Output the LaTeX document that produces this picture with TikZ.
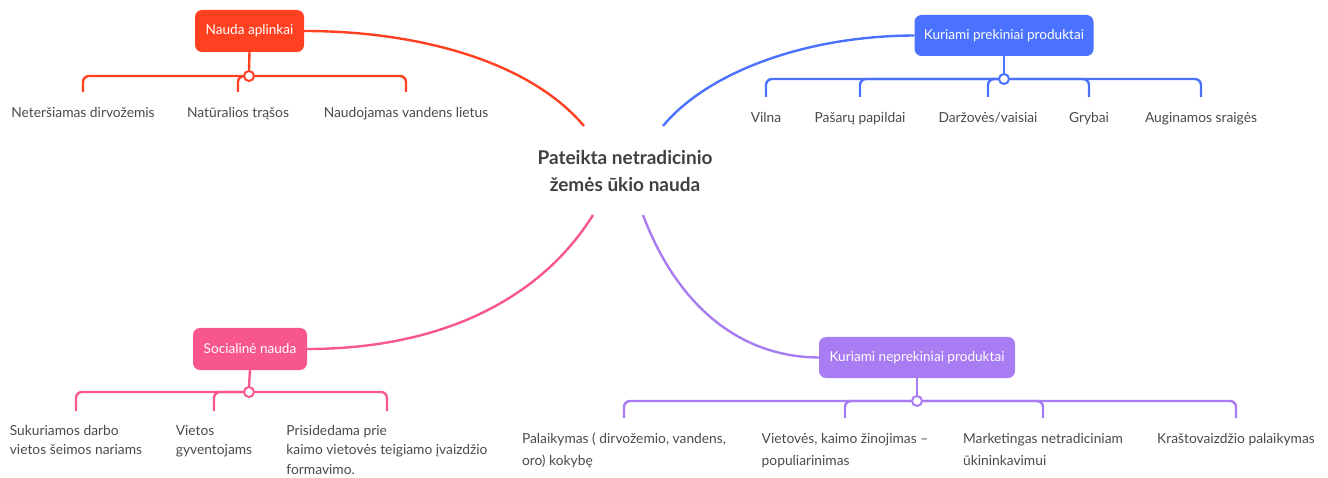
\documentclass[tikz,border=0pt]{standalone}
\usepackage{fontspec}
\setmainfont{Lato}
\definecolor{cred}{HTML}{FF4122}
\definecolor{cblue}{HTML}{4A72FF}
\definecolor{cpink}{HTML}{F7578C}
\definecolor{cpurple}{HTML}{A87CF2}
\definecolor{ctext}{HTML}{4A4A4A}
\begin{document}
\begin{tikzpicture}[x=1pt,y=-1pt,
  topic/.style={draw=none,rounded corners=7pt,text=white,font=\fontsize{13.6}{15}\selectfont,inner sep=0pt},
  leaf/.style={anchor=north,inner sep=0pt,align=left,text=ctext,font=\fontsize{13.8}{21}\selectfont},
  dotc/.style={circle,draw=#1,fill=white,line width=2pt,minimum size=10pt,inner sep=0pt},
  lnk/.style={line width=2.4pt,draw=#1},
  br/.style={line width=2.4pt,draw=#1,rounded corners=6pt,shorten >=15pt},
]
\useasboundingbox (0,0) rectangle (1328,478);

% center
\node[font=\bfseries\fontsize{19}{27}\selectfont,text=black!75,align=center] (center) at (625,171) {Pateikta netradicinio\\žemės ūkio nauda};
\coordinate (eR) at (584,126);
\coordinate (eB) at (663,126);
\coordinate (eP) at (593,215);
\coordinate (eV) at (643,215);

% ---------- red branch ----------
\node[topic,fill=cred,minimum width=109pt,minimum height=42pt] (bR) at (249.5,31) {Nauda aplinkai};
\draw[lnk=cred] (bR.east) .. controls (420,31) and (530,62) .. (eR);
\coordinate (cR) at (249,76);
\node[leaf] (r1) at (83,107) {Neteršiamas dirvožemis};
\node[leaf] (r2) at (238,107) {Natūralios trąšos};
\node[leaf] (r3) at (406,107) {Naudojamas vandens lietus};
\draw[br=cred] (cR) -| (r1.north);
\draw[br=cred] (cR) -| (r2.north);
\draw[br=cred] (cR) -| (r3.north);
\node[dotc=cred] (dR) at (cR) {};
\draw[lnk=cred] (bR.south) -- (dR.north);

% ---------- blue branch ----------
\node[topic,fill=cblue,minimum width=179pt,minimum height=41pt] (bB) at (1004,35.5) {Kuriami prekiniai produktai};
\draw[lnk=cblue] (bB.west) .. controls (800,36) and (705,75) .. (eB);
\coordinate (cB) at (1004,79);
\node[leaf] (u1) at (766,112) {Vilna};
\node[leaf] (u2) at (860,112) {Pašarų papildai};
\node[leaf] (u3) at (988,112) {Daržovės/vaisiai};
\node[leaf] (u4) at (1089,112) {Grybai};
\node[leaf] (u5) at (1201,112) {Auginamos sraigės};
\foreach \n in {u1,u2,u3,u4,u5} {\draw[br=cblue] (cB) -| (\n.north);}
\node[dotc=cblue] (dB) at (cB) {};
\draw[lnk=cblue] (bB.south) -- (dB.north);

% ---------- pink branch ----------
\node[topic,fill=cpink,minimum width=114pt,minimum height=42pt] (bP) at (250,349) {Socialinė nauda};
\draw[lnk=cpink] (bP.east) .. controls (440,349) and (540,300) .. (eP);
\coordinate (cP) at (249,392);
\node[leaf,font=\fontsize{13.8}{19.5}\selectfont] (p1) at (76,425) {Sukuriamos darbo\\vietos šeimos nariams};
\node[leaf,font=\fontsize{13.8}{19.5}\selectfont] (p2) at (214,425) {Vietos\\gyventojams};
\node[leaf,font=\fontsize{13.8}{19.5}\selectfont] (p3) at (387,425) {Prisidedama prie\\kaimo vietovės teigiamo įvaizdžio\\formavimo.};
\foreach \n in {p1,p2,p3} {\draw[br=cpink,shorten >=14pt] (cP) -| (\n.north);}
\node[dotc=cpink] (dP) at (cP) {};
\draw[lnk=cpink] (bP.south) -- (dP.north);

% ---------- purple branch ----------
\node[topic,fill=cpurple,minimum width=196pt,minimum height=41pt] (bV) at (917,357.5) {Kuriami neprekiniai produktai};
\draw[lnk=cpurple] (eV) .. controls (675,300) and (735,357) .. (bV.west);
\coordinate (cV) at (917,401);
\node[leaf,font=\fontsize{13.8}{22}\selectfont] (v1) at (624,433) {Palaikymas ( dirvožemio, vandens,\\oro) kokybę};
\node[leaf,font=\fontsize{13.8}{22}\selectfont] (v2) at (845,433) {Vietovės, kaimo žinojimas  –\\populiarinimas};
\node[leaf,font=\fontsize{13.8}{22}\selectfont] (v3) at (1043,433) {Marketingas netradiciniam\\ūkininkavimui};
\node[leaf] (v4) at (1236,433) {Kraštovaizdžio palaikymas};
\foreach \n in {v1,v2,v3,v4} {\draw[br=cpurple] (cV) -| (\n.north);}
\node[dotc=cpurple] (dV) at (cV) {};
\draw[lnk=cpurple] (bV.south) -- (dV.north);
\end{tikzpicture}
\end{document}
